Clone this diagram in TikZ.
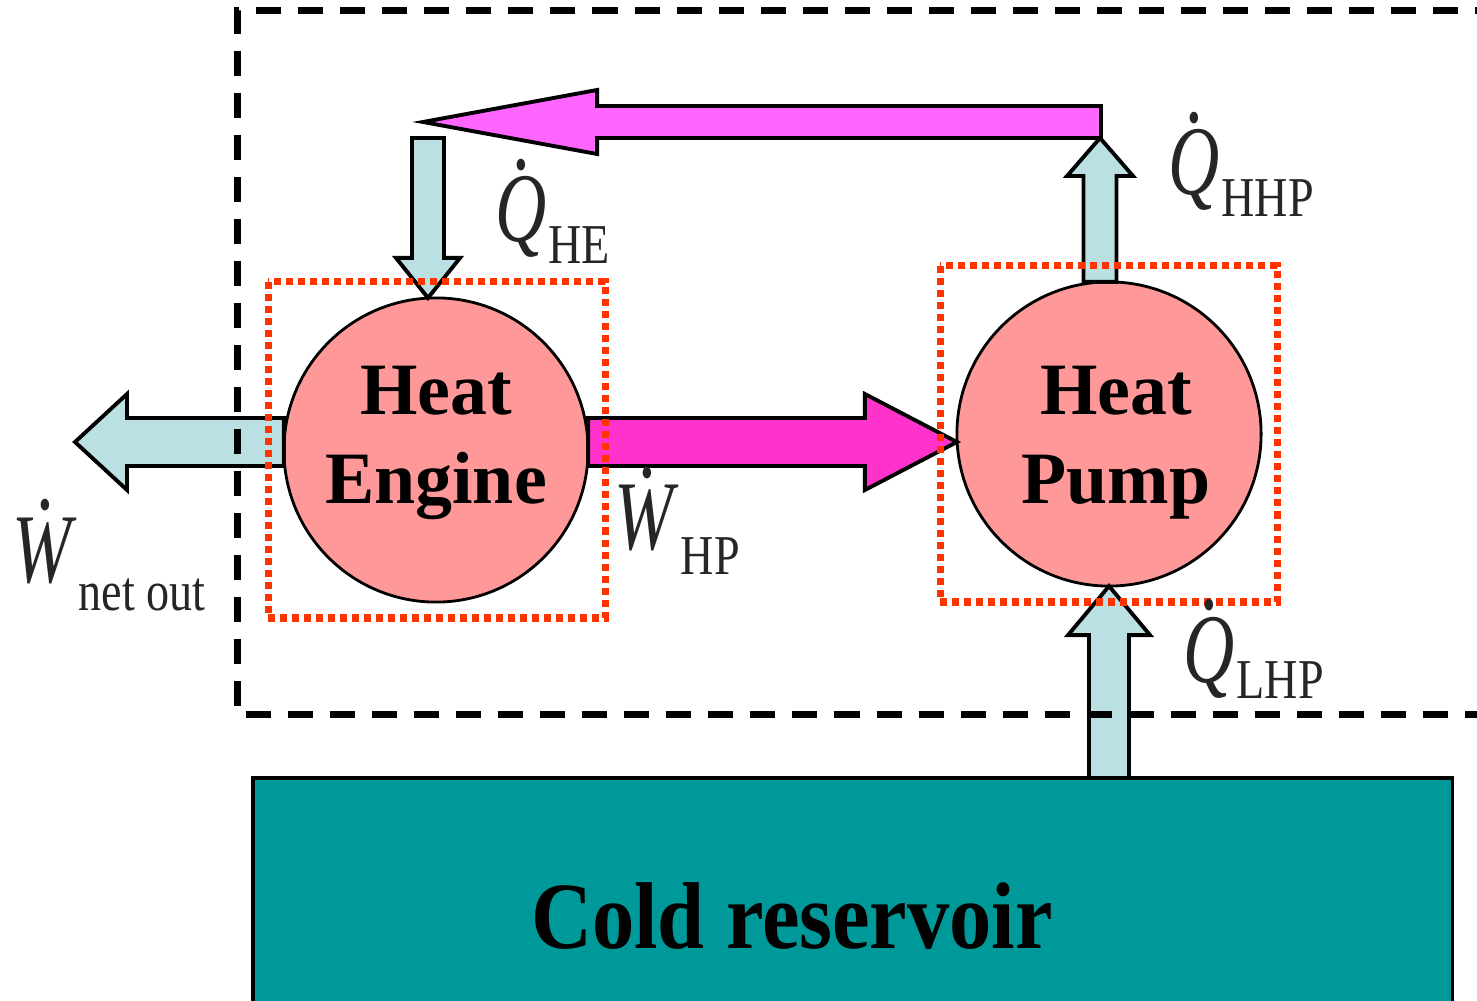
\documentclass[tikz,border=0pt]{standalone}
\usepackage{fontspec}
\setmainfont{Liberation Serif}
\usepackage{graphicx}
\usetikzlibrary{calc}

\definecolor{heatpink}{HTML}{FF9999}
\definecolor{dotred}{HTML}{FF3300}
\definecolor{flowblue}{HTML}{BBE0E3}
\definecolor{loopmagenta}{HTML}{FF66FF}
\definecolor{workmagenta}{HTML}{FF33CC}
\definecolor{coldteal}{HTML}{009999}

% a rate symbol with its dot, and its subscript lowered by #3
\newcommand{\flowdot}[1]{\setbox0=\hbox{#1}\hbox to \wd0{\hss\raisebox{0.74em}{.}\hss}\kern-\wd0\box0}
\newcommand{\flowlbl}[3]{{\fontsize{28}{28}\selectfont\scalebox{0.72}[1]{\flowdot{\textit{#1}}}}\kern0.5pt\raisebox{-#3}{\fontsize{16}{16}\selectfont\scalebox{0.82}[1]{#2}}}

% block arrow: style, tail, tip, half shaft, half head, head length
\newcommand{\blockarrow}[6]{%
  \path let \p1=#2, \p2=#3 in
    \pgfextra{\pgfmathsetmacro\baang{atan2(\y2-\y1,\x2-\x1)}\pgfmathsetmacro\balen{veclen(\x2-\x1,\y2-\y1)}%
      \global\let\baang\baang\global\let\balen\balen};
  \draw[#1,shift={#2},rotate=\baang]
    (0pt,-#4) -- ({\balen pt-#6},-#4) -- ({\balen pt-#6},-#5) -- (\balen pt,0pt)
    -- ({\balen pt-#6},#5) -- ({\balen pt-#6},#4) -- (0pt,#4) -- cycle;
}

\tikzset{
  machine/.style={circle,draw=black,line width=0.8pt,fill=heatpink,minimum size=3.04cm,inner sep=0pt,outer sep=0pt},
  machinetxt/.style={align=center,inner sep=0pt,font=\fontsize{21}{25.3}\selectfont\bfseries},
  coldbox/.style={rectangle,draw=black,line width=1pt,fill=coldteal,inner sep=0pt,outer sep=0pt},
  flow/.style={draw=black,line width=1.1pt,line join=miter,fill=flowblue},
  loopflow/.style={flow,fill=loopmagenta},
  workflow/.style={flow,fill=workmagenta},
  unitbox/.style={draw=dotred,line width=0.07cm,dash pattern=on 0.07cm off 0.05cm},
  systembox/.style={draw=black,line width=0.07cm,dash pattern=on 0.25cm off 0.17cm},
  ratelbl/.style={inner sep=0pt,anchor=base west,text=black!85}
}

\begin{document}
\begin{tikzpicture}[x=0.01cm,y=-0.01cm]
\clip (0,0) rectangle (1477,1001);
\fill[white] (0,0) rectangle (1477,1001);

% the two machines and the reservoir
\node[machine] (he) at (436,450) {};
\node[machine] (hp) at (1109,434) {};
\node[machinetxt] (hetxt) at (436,443) {Heat\\Engine};
\node[machinetxt] (hptxt) at (1116,443) {Heat\\Pump};
\node[coldbox,anchor=north west,minimum width=11.99cm,minimum height=2.5cm] (res) at (253,778) {};
\node[anchor=base,font=\fontsize{27}{27}\selectfont\bfseries] (restxt) at (792,948) {\scalebox{0.89}[1]{Cold reservoir}};

% free ends of the flows
\coordinate (qhetop) at (428,138);
\coordinate (loopstart) at (1101,122);
\coordinate (loopend) at (423,122);
\coordinate (hhptip) at (1100,138);
\coordinate (wtip) at (75,442);

% heat and work flows
\blockarrow{flow}{(qhetop)}{(qhetop |- he.north)}{0.16cm}{0.32cm}{0.40cm}
\blockarrow{loopflow}{(loopstart)}{(loopend)}{0.16cm}{0.32cm}{1.74cm}
\blockarrow{flow}{(hhptip |- hp.north)}{(hhptip)}{0.165cm}{0.33cm}{0.38cm}
\blockarrow{flow}{(hp.south |- res.north)}{(hp.south)}{0.20cm}{0.41cm}{0.49cm}
\blockarrow{workflow}{($(he.east)+(0,-8)$)}{($(hp.west)+(0,8)$)}{0.24cm}{0.48cm}{0.92cm}
\blockarrow{flow}{($(he.west)+(0,-8)$)}{(wtip)}{0.24cm}{0.48cm}{0.52cm}

% unit boundaries and the system boundary
\draw[unitbox] (268,282) rectangle (605,618);
\draw[unitbox] (940,266) rectangle (1277,602);
\draw[systembox] (1500,11) -- (237,11) -- (237,714) -- (1500,714);

% rate labels
\node[ratelbl] (qhe) at (495,242) {\flowlbl{Q}{HE}{6pt}};
\node[ratelbl] (qhhp) at (1168,195) {\flowlbl{Q}{HHP}{6pt}};
\node[ratelbl] (qlhp) at (1183,682) {\flowlbl{Q}{LHP}{4.6pt}};
\node[ratelbl] (whp) at (614,550) {\flowlbl{W}{HP}{7pt}};
\node[ratelbl] (wnet) at (12,582) {\flowlbl{W}{net out}{8pt}};
\end{tikzpicture}
\end{document}
